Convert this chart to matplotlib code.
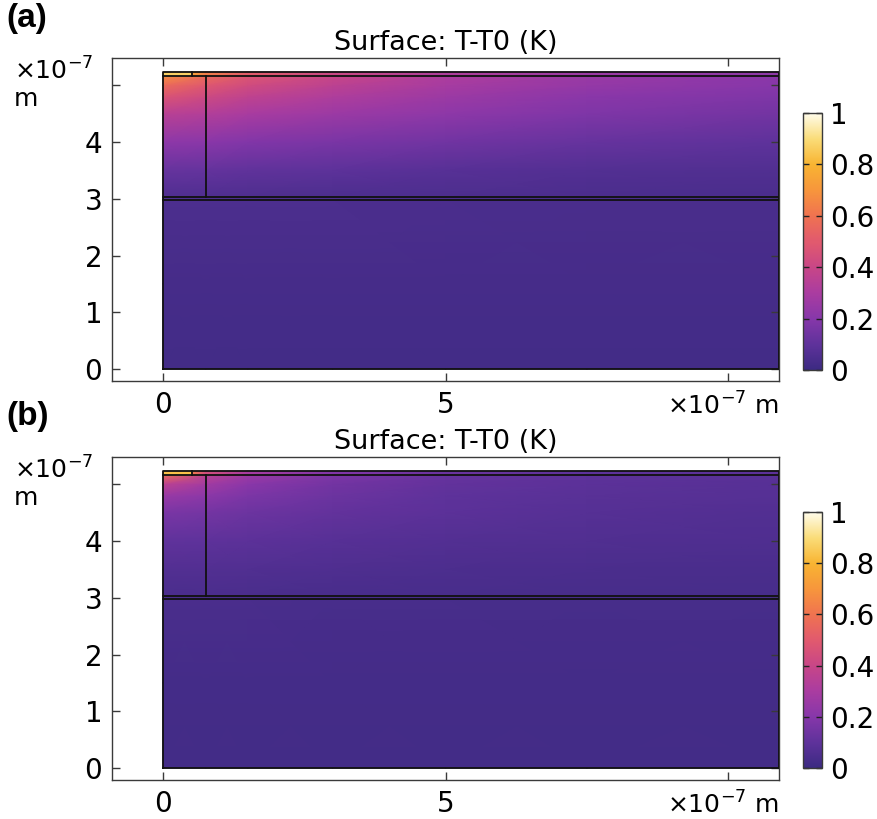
import numpy as np
import matplotlib
matplotlib.use("Agg")
import matplotlib.pyplot as plt
from matplotlib.colors import LinearSegmentedColormap, Normalize
from matplotlib.cm import ScalarMappable

plt.rcParams["font.family"] = ["DejaVu Sans"]
plt.rcParams["mathtext.fontset"] = "dejavusans"

# Geometry of the stack, in units of 1e-7 m
x_right = 10.9
y_sub = 2.98       # substrate top
y_buf = 3.03       # buffer layer top
y_film = 5.16      # film top
y_cap = 5.23       # cap / heater layer top
x_heater = 0.51    # heater stripe width
x_pillar = 0.755   # pillar boundary

# Temperature-rise sampling grid (×1e-7 m)
x_nodes = [0, 0.755, 1.5, 3, 5, 7.5, 10.9]
y_nodes = [0, 1.5, 2.98, 3.03, 3.5, 4.0, 4.5, 4.8, 5.0, 5.16]

# T - T0 (K), rows follow y_nodes, columns follow x_nodes
dT_a = [
    [0.020, 0.020, 0.020, 0.020, 0.020, 0.020, 0.020],
    [0.030, 0.030, 0.030, 0.030, 0.030, 0.030, 0.030],
    [0.050, 0.050, 0.050, 0.048, 0.045, 0.042, 0.040],
    [0.055, 0.055, 0.052, 0.050, 0.047, 0.044, 0.042],
    [0.120, 0.115, 0.105, 0.095, 0.080, 0.068, 0.060],
    [0.220, 0.210, 0.190, 0.170, 0.145, 0.120, 0.100],
    [0.350, 0.330, 0.300, 0.260, 0.220, 0.180, 0.150],
    [0.470, 0.420, 0.370, 0.320, 0.260, 0.210, 0.180],
    [0.570, 0.490, 0.430, 0.360, 0.290, 0.240, 0.200],
    [0.680, 0.570, 0.480, 0.400, 0.310, 0.250, 0.210],
]
dT_b = [
    [0.020, 0.020, 0.020, 0.020, 0.020, 0.020, 0.020],
    [0.025, 0.025, 0.025, 0.025, 0.025, 0.025, 0.025],
    [0.040, 0.040, 0.040, 0.038, 0.036, 0.034, 0.032],
    [0.042, 0.042, 0.040, 0.038, 0.036, 0.034, 0.032],
    [0.065, 0.063, 0.060, 0.055, 0.050, 0.045, 0.040],
    [0.105, 0.100, 0.090, 0.080, 0.070, 0.060, 0.055],
    [0.170, 0.155, 0.135, 0.110, 0.090, 0.075, 0.065],
    [0.250, 0.215, 0.175, 0.135, 0.100, 0.085, 0.075],
    [0.360, 0.280, 0.210, 0.150, 0.110, 0.090, 0.080],
    [0.580, 0.360, 0.260, 0.175, 0.120, 0.095, 0.085],
]

# Cap layer beside the heater stripe
cap_x = [0.51, 0.755, 1.5, 3, 5, 7.5, 10.9]
cap_a = [0.74, 0.63, 0.51, 0.41, 0.32, 0.26, 0.22]
cap_b = [0.62, 0.44, 0.29, 0.19, 0.13, 0.10, 0.09]
heater_a = 0.87
heater_b = 0.83

panels = [
    ("(a)", dT_a, cap_a, heater_a),
    ("(b)", dT_b, cap_b, heater_b),
]

cb_ticks = [0, 0.2, 0.4, 0.6, 0.8, 1.0]
cb_labels = ["0", "0.2", "0.4", "0.6", "0.8", "1"]
x_ticks = [0, 5, 10]
x_labels = ["0", "5", ""]
y_ticks = [0, 1, 2, 3, 4, 5]
y_labels = ["0", "1", "2", "3", "4", ""]

# Thermal colour scale
cmap = LinearSegmentedColormap.from_list("thermal_light", [
    (0.00, (60 / 255, 42 / 255, 130 / 255)),
    (0.10, (95 / 255, 50 / 255, 155 / 255)),
    (0.20, (135 / 255, 55 / 255, 170 / 255)),
    (0.30, (170 / 255, 60 / 255, 160 / 255)),
    (0.40, (200 / 255, 70 / 255, 135 / 255)),
    (0.50, (225 / 255, 90 / 255, 110 / 255)),
    (0.60, (240 / 255, 115 / 255, 80 / 255)),
    (0.70, (247 / 255, 150 / 255, 60 / 255)),
    (0.80, (248 / 255, 180 / 255, 50 / 255)),
    (0.90, (250 / 255, 220 / 255, 120 / 255)),
    (1.00, (255 / 255, 252 / 255, 235 / 255)),
])
norm = Normalize(0, 1)

W, H = 878, 819
fig = plt.figure(figsize=(W / 100, H / 100), dpi=100)


def fbox(l, t, r, b):
    return [l / W, 1 - b / H, (r - l) / W, (b - t) / H]


axes_px = [(112, 58, 779, 381), (112, 457, 779, 780)]
cbar_px = [(803, 113, 822, 370), (803, 512, 822, 768)]
spine_col = "#3a3a3a"
line_kw = dict(color="#111111", lw=1.3, zorder=5)

for (tag, dT, cap, heater), apx, cpx in zip(panels, axes_px, cbar_px):
    ax = fig.add_axes(fbox(*apx))
    ax.set_xlim(-0.903, 10.9)
    ax.set_ylim(-0.211, 5.48)

    X, Y = np.meshgrid(x_nodes, y_nodes)
    ax.pcolormesh(X, Y, np.array(dT), shading="gouraud", cmap=cmap, norm=norm)

    hx, hy = np.meshgrid([0, x_heater], [y_film, y_cap])
    ax.pcolormesh(hx, hy, np.full((2, 2), heater), shading="gouraud",
                  cmap=cmap, norm=norm)
    cx, cy = np.meshgrid(cap_x, [y_film, y_cap])
    ax.pcolormesh(cx, cy, np.array([cap, cap]), shading="gouraud",
                  cmap=cmap, norm=norm)

    # layer boundaries
    ax.plot([0, x_right, x_right, 0, 0], [0, 0, y_cap, y_cap, 0], **line_kw)
    for yb in (y_sub, y_buf, y_film):
        ax.plot([0, x_right], [yb, yb], **line_kw)
    ax.plot([x_pillar, x_pillar], [y_buf, y_film], **line_kw)
    ax.plot([x_heater, x_heater], [y_film, y_cap], **line_kw)

    ax.set_xticks(x_ticks)
    ax.set_xticklabels(x_labels)
    ax.set_yticks(y_ticks)
    ax.set_yticklabels(y_labels)
    ax.tick_params(direction="in", top=True, right=True, length=6, width=1,
                   color=spine_col, labelsize=20, pad=7)
    for s in ax.spines.values():
        s.set_color(spine_col)
        s.set_linewidth(1.0)

    ax.set_title("Surface: T-T0 (K)", fontsize=19.5, pad=6)

    # axis scale annotations
    l, t, r, b = apx
    fig.text(14 / W, 1 - (t + 13) / H, r"$\times10^{-7}$", fontsize=18,
             va="center", ha="left")
    fig.text(14 / W, 1 - (t + 41) / H, "m", fontsize=18, va="center",
             ha="left")
    fig.text(r / W, 1 - (b + 25) / H, r"$\times10^{-7}$ m", fontsize=18,
             va="center", ha="right")

    fig.text(6 / W, 1 - (t - 40) / H, tag, fontsize=24, fontweight="bold",
             family="Liberation Sans", va="center", ha="left")

    cax = fig.add_axes(fbox(*cpx))
    cb = fig.colorbar(ScalarMappable(norm=norm, cmap=cmap), cax=cax,
                      ticks=cb_ticks)
    cb.set_ticklabels(cb_labels)
    cax.tick_params(direction="in", left=True, right=True, length=4, width=1,
                    color="#222222", labelsize=20, pad=6)
    cb.outline.set_edgecolor(spine_col)
    cb.outline.set_linewidth(1.0)

fig.savefig("out.png", dpi=100)
